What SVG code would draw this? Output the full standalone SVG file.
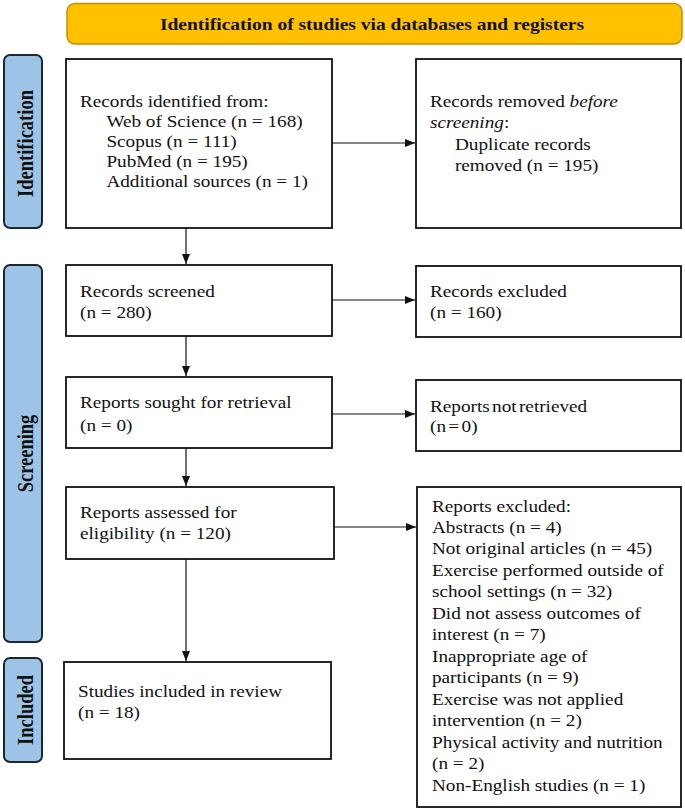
<svg xmlns="http://www.w3.org/2000/svg" width="685" height="810" viewBox="0 0 685 810">
<style>
.box{fill:#fff;stroke:#111;stroke-width:1.8}
.side{fill:#9DC3E6;stroke:#1b2733;stroke-width:2}
.hdr{fill:#FFC000;stroke:#BF9000;stroke-width:1.5}
.t{font-family:"Liberation Serif","Times New Roman",serif;font-size:16px;fill:#111}
.b{font-family:"Liberation Serif","Times New Roman",serif;font-weight:bold;fill:#111}
.c{stroke:#111;stroke-width:1.2;fill:none}
</style>
<defs>
<marker id="ah" markerWidth="10" markerHeight="8" refX="10" refY="4" orient="auto" markerUnits="userSpaceOnUse">
<path d="M0,0 L10,4 L0,8 z" fill="#111"/>
</marker>
</defs>
<rect width="685" height="810" fill="#fff"/>
<g id="header">
<rect class="hdr" x="67" y="3.5" width="615" height="40.5" rx="8"/>
<text class="b" font-size="17.5" text-anchor="middle" transform="translate(372,30) scale(1.115,1)">Identification of studies via databases and registers</text>
</g>
<g id="lbl-identification">
<rect class="side" x="4" y="55" width="38" height="173" rx="6"/>
<text class="b" font-size="18.5" text-anchor="middle" transform="translate(32.5,143.5) scale(1.2,1) rotate(-90)">Identification</text>
</g>
<g id="lbl-screening">
<rect class="side" x="4" y="265" width="38" height="377" rx="6"/>
<text class="b" font-size="18.5" text-anchor="middle" transform="translate(32.5,453.5) scale(1.2,1) rotate(-90)">Screening</text>
</g>
<g id="lbl-included">
<rect class="side" x="4" y="658" width="38" height="104" rx="6"/>
<text class="b" font-size="18.5" text-anchor="middle" transform="translate(32.5,710) scale(1.2,1) rotate(-90)">Included</text>
</g>
<g id="n-identified">
<rect class="box" x="66" y="59" width="266" height="169"/>
<text class="t" transform="translate(80,107) scale(1.2,1)"><tspan x="0" y="0">Records identified from:</tspan><tspan x="22" y="20.3">Web of Science (n = 168)</tspan><tspan x="22" y="40.5">Scopus (n = 111)</tspan><tspan x="22" y="60.5">PubMed (n = 195)</tspan><tspan x="22" y="80.3">Additional sources (n = 1)</tspan></text>
</g>
<g id="n-removed">
<rect class="box" x="416" y="59" width="265" height="169"/>
<text class="t" transform="translate(430,107) scale(1.2,1)"><tspan x="0" y="0">Records removed <tspan font-style="italic">before</tspan></tspan><tspan x="0" y="21.3"><tspan font-style="italic">screening</tspan>:</tspan><tspan x="20.8" y="43">Duplicate records</tspan><tspan x="20.8" y="64.3">removed (n = 195)</tspan></text>
</g>
<g id="n-screened">
<rect class="box" x="66" y="265" width="266" height="71"/>
<text class="t" transform="translate(80,297) scale(1.2,1)"><tspan x="0" y="0">Records screened</tspan><tspan x="0" y="21">(n = 280)</tspan></text>
</g>
<g id="n-excluded">
<rect class="box" x="416" y="266" width="265" height="71"/>
<text class="t" transform="translate(430,297) scale(1.2,1)"><tspan x="0" y="0">Records excluded</tspan><tspan x="0" y="21">(n = 160)</tspan></text>
</g>
<g id="n-sought">
<rect class="box" x="66" y="377" width="266" height="71"/>
<text class="t" transform="translate(80,408) scale(1.2,1)"><tspan x="0" y="0">Reports sought for retrieval</tspan><tspan x="0" y="23">(n = 0)</tspan></text>
</g>
<g id="n-notretrieved">
<rect class="box" x="416" y="380" width="265" height="71"/>
<text class="t" word-spacing="-2" transform="translate(430,412) scale(1.2,1)"><tspan x="0" y="0">Reports not retrieved</tspan><tspan x="0" y="20">(n = 0)</tspan></text>
</g>
<g id="n-assessed">
<rect class="box" x="66" y="487" width="268" height="72"/>
<text class="t" transform="translate(80,518) scale(1.2,1)"><tspan x="0" y="0">Reports assessed for</tspan><tspan x="0" y="21">eligibility (n = 120)</tspan></text>
</g>
<g id="n-repexcluded">
<rect class="box" x="417" y="487" width="264" height="320"/>
<text class="t" transform="translate(432,511.5) scale(1.2,1)"><tspan x="0" y="0">Reports excluded:</tspan><tspan x="0" y="21.5">Abstracts (n = 4)</tspan><tspan x="0" y="43">Not original articles (n = 45)</tspan><tspan x="0" y="64.5">Exercise performed outside of</tspan><tspan x="0" y="86">school settings (n = 32)</tspan><tspan x="0" y="107.5">Did not assess outcomes of</tspan><tspan x="0" y="129">interest (n = 7)</tspan><tspan x="0" y="150.5">Inappropriate age of</tspan><tspan x="0" y="172">participants (n = 9)</tspan><tspan x="0" y="193.5">Exercise was not applied</tspan><tspan x="0" y="215">intervention (n = 2)</tspan><tspan x="0" y="236.5">Physical activity and nutrition</tspan><tspan x="0" y="258">(n = 2)</tspan><tspan x="0" y="279.5">Non-English studies (n = 1)</tspan></text>
</g>
<g id="n-included">
<rect class="box" x="64" y="662" width="267" height="97"/>
<text class="t" transform="translate(78,697) scale(1.2,1)"><tspan x="0" y="0">Studies included in review</tspan><tspan x="0" y="21">(n = 18)</tspan></text>
</g>
<g id="connectors">
<line class="c" x1="332" y1="143" x2="415" y2="143" marker-end="url(#ah)"/>
<line class="c" x1="186" y1="228" x2="186" y2="264" marker-end="url(#ah)"/>
<line class="c" x1="332" y1="300" x2="415" y2="300" marker-end="url(#ah)"/>
<line class="c" x1="186" y1="336" x2="186" y2="376" marker-end="url(#ah)"/>
<line class="c" x1="332" y1="414" x2="415" y2="414" marker-end="url(#ah)"/>
<line class="c" x1="186" y1="448" x2="186" y2="486" marker-end="url(#ah)"/>
<line class="c" x1="334" y1="527" x2="416" y2="527" marker-end="url(#ah)"/>
<line class="c" x1="186" y1="559" x2="186" y2="661" marker-end="url(#ah)"/>
</g>
</svg>
